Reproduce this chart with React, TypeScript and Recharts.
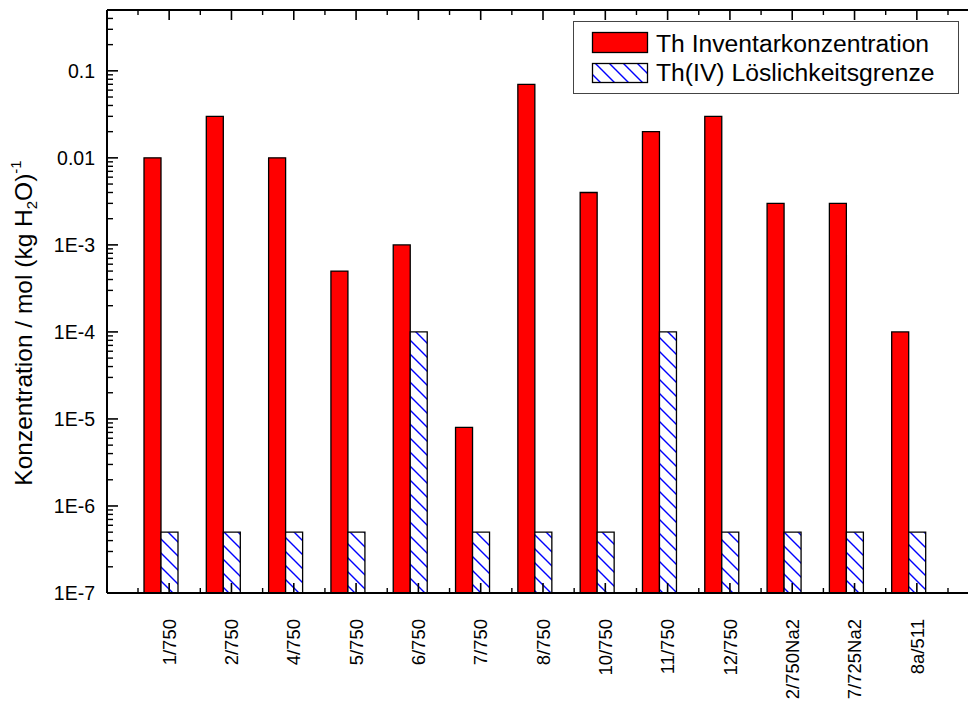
import React from 'react';
import { BarChart, Bar, XAxis, YAxis } from 'recharts';

const proben = ['1/750', '2/750', '4/750', '5/750', '6/750', '7/750', '8/750', '10/750', '11/750', '12/750', '2/750Na2', '7/725Na2', '8a/511'];
const inventar = [1e-2, 3e-2, 1e-2, 5e-4, 1e-3, 8e-6, 7e-2, 4e-3, 2e-2, 3e-2, 3e-3, 3e-3, 1e-4];
const loeslichkeit = [5e-7, 5e-7, 5e-7, 5e-7, 1e-4, 5e-7, 5e-7, 5e-7, 1e-4, 5e-7, 5e-7, 5e-7, 5e-7];
const yTicks = [1e-7, 1e-6, 1e-5, 1e-4, 1e-3, 1e-2, 1e-1];
const yTickLabels = ['1E-7', '1E-6', '1E-5', '1E-4', '1E-3', '0.01', '0.1'];
const yDomain = [1e-7, 0.5];
const seriesNames = ['Th Inventarkonzentration', 'Th(IV) Löslichkeitsgrenze'];

const data = proben.map((name, i) => ({ name, inventar: inventar[i], loeslich: loeslichkeit[i] }));

// minor log ticks 2..9 per decade
const minorTicks: number[] = [];
yTicks.forEach((t) => {
  for (let m = 2; m <= 9; m++) {
    if (m * t <= yDomain[1] * 1.0001) minorTicks.push(m * t);
  }
});
const allYTicks = [...yTicks, ...minorTicks].sort((a, b) => a - b);

const W = 968;
const H = 707;
const LEFT = 107;
const TOP = 10;
const BOTTOM = 593;
const HALF_STEP = 31.15;
const FONT = "'Liberation Sans', Arial, sans-serif";

const isMajor = (v: number) => yTicks.findIndex((t) => Math.abs(v - t) / t < 1e-6);

const YTick = (props: any) => {
  const { y, payload } = props;
  const idx = isMajor(payload.value);
  if (idx >= 0) {
    return (
      <g>
        <line x1={LEFT} x2={LEFT + 11} y1={y} y2={y} stroke="#000" strokeWidth={1.6} />
        <text x={LEFT - 12} y={y} dy="0.36em" textAnchor="end" fontSize={19.5} fontFamily={FONT} fill="#000">
          {yTickLabels[idx]}
        </text>
      </g>
    );
  }
  return <line x1={LEFT} x2={LEFT + 6} y1={y} y2={y} stroke="#000" strokeWidth={1.4} />;
};

const BottomTick = (props: any) => {
  const { x, index, payload } = props;
  const mx = x + 8;
  return (
    <g>
      <line x1={mx} x2={mx} y1={BOTTOM} y2={BOTTOM - 10} stroke="#000" strokeWidth={1.6} />
      <line x1={mx - HALF_STEP} x2={mx - HALF_STEP} y1={BOTTOM} y2={BOTTOM - 5} stroke="#000" strokeWidth={1.4} />
      {index === proben.length - 1 && (
        <line x1={mx + HALF_STEP} x2={mx + HALF_STEP} y1={BOTTOM} y2={BOTTOM - 5} stroke="#000" strokeWidth={1.4} />
      )}
      <text
        x={mx}
        y={619}
        dy="0.36em"
        transform={`rotate(-90, ${mx}, 619)`}
        textAnchor="end"
        fontSize={18.5}
        fontFamily={FONT}
        fill="#000"
      >
        {payload.value}
      </text>
    </g>
  );
};

const TopTick = (props: any) => {
  const { x, index } = props;
  const mx = x + 8;
  return (
    <g>
      <line x1={mx} x2={mx} y1={TOP} y2={TOP + 10} stroke="#000" strokeWidth={1.6} />
      <line x1={mx - HALF_STEP} x2={mx - HALF_STEP} y1={TOP} y2={TOP + 5} stroke="#000" strokeWidth={1.4} />
      {index === proben.length - 1 && (
        <line x1={mx + HALF_STEP} x2={mx + HALF_STEP} y1={TOP} y2={TOP + 5} stroke="#000" strokeWidth={1.4} />
      )}
    </g>
  );
};

export default function App() {
  return (
    <div style={{ position: 'absolute', left: 0, top: 0, width: W, height: H, background: '#fff' }}>
      <BarChart
        width={W}
        height={H}
        data={data}
        margin={{ top: TOP - 1, right: 0, bottom: H - BOTTOM - 100, left: LEFT - 100 }}
        barGap={0}
        barSize={17}
      >
        <defs>
          <pattern id="hatch" patternUnits="userSpaceOnUse" width="14" height="14">
            <rect width="14" height="14" fill="#fff" />
            <path d="M-2,-2 L16,16 M-2,12 L2,16 M12,-2 L16,2" stroke="#0000ff" strokeWidth={1.4} />
          </pattern>
        </defs>
        <XAxis
          dataKey="name"
          height={100}
          padding={{ left: 23, right: 28 }}
          interval={0}
          tickLine={false}
          axisLine={{ stroke: '#000', strokeWidth: 2 }}
          tick={<BottomTick />}
        />
        <XAxis
          xAxisId="top"
          dataKey="name"
          orientation="top"
          height={1}
          padding={{ left: 23, right: 28 }}
          interval={0}
          tickLine={false}
          axisLine={{ stroke: '#000', strokeWidth: 2 }}
          tick={<TopTick />}
        />
        <YAxis
          type="number"
          scale="log"
          domain={yDomain}
          allowDataOverflow
          ticks={allYTicks}
          interval={0}
          width={100}
          tickLine={false}
          axisLine={{ stroke: '#000', strokeWidth: 2 }}
          tick={<YTick />}
        />
        <Bar dataKey="inventar" name={seriesNames[0]} fill="#ff0000" stroke="#000" strokeWidth={1.3} isAnimationActive={false} />
        <Bar dataKey="loeslich" name={seriesNames[1]} fill="url(#hatch)" stroke="#000" strokeWidth={1.3} isAnimationActive={false} />

        <text
          x={32}
          y={323}
          transform="rotate(-90, 32, 323)"
          textAnchor="middle"
          fontSize={24.5}
          fontFamily={FONT}
          fill="#000"
        >
          Konzentration / mol (kg H
          <tspan fontSize={15} dy={5}>2</tspan>
          <tspan dy={-5}>O)</tspan>
          <tspan fontSize={15} dy={-11}>-1</tspan>
        </text>

        <g>
          <rect x={573.5} y={21.5} width={385} height={72} fill="#fff" stroke="#444" strokeWidth={1} />
          <rect x={592.5} y={32.5} width={55} height={20} fill="#ff0000" stroke="#000" strokeWidth={1.3} />
          <text x={656} y={51.5} fontSize={24.7} fontFamily={FONT} fill="#000">{seriesNames[0]}</text>
          <rect x={592.5} y={63.5} width={55} height={19} fill="url(#hatch)" stroke="#000" strokeWidth={1.3} />
          <text x={656} y={81} fontSize={24.7} fontFamily={FONT} fill="#000">{seriesNames[1]}</text>
        </g>
      </BarChart>
    </div>
  );
}
